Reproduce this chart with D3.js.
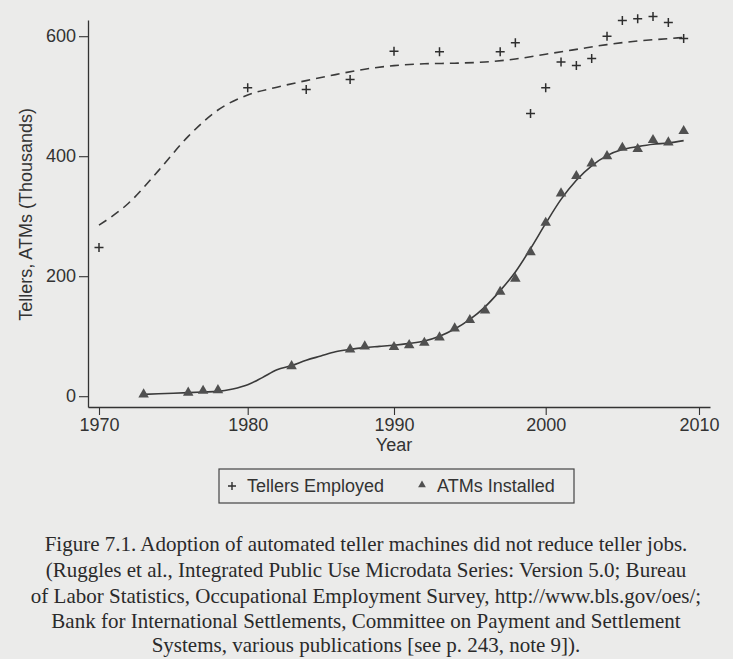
<!DOCTYPE html>
<html>
<head>
<meta charset="utf-8">
<script src="https://cdn.jsdelivr.net/npm/d3@7"></script>
<style>
  html, body { margin: 0; padding: 0; background: #ebebea; }
  svg { display: block; }
</style>
</head>
<body>
<svg id="chart" width="733" height="659"></svg>
<script>
// ---- data ----
const tellerYears  = [1970, 1980, 1984, 1987, 1990, 1993, 1997, 1998, 1999, 2000, 2001, 2002, 2003, 2004, 2005, 2006, 2007, 2008, 2009];
const tellerValues = [248, 514, 511, 528, 575, 574, 574, 589, 471, 514, 557, 551, 563, 600, 626, 629, 633, 623, 596];

const tellerFitYears  = [1970, 1972, 1974, 1976, 1978, 1980, 1982, 1984, 1986, 1988, 1990, 1992, 1994, 1996, 1998, 2000, 2002, 2004, 2006, 2008, 2009];
const tellerFitValues = [285, 322, 376, 433, 477, 502, 515, 526, 536, 545, 551, 554, 555, 557, 562, 570, 578, 586, 592, 596, 598];

const atmYears  = [1973, 1976, 1977, 1978, 1983, 1987, 1988, 1990, 1991, 1992, 1993, 1994, 1995, 1996, 1997, 1998, 1999, 2000, 2001, 2002, 2003, 2004, 2005, 2006, 2007, 2008, 2009];
const atmValues = [3, 6, 9, 10, 50, 78, 83, 82, 85, 89, 98, 113, 127, 143, 174, 196, 240, 289, 338, 367, 388, 400, 414, 412, 427, 423, 442];

const atmFitYears  = [1973, 1975, 1977, 1978, 1979, 1980, 1981, 1982, 1983, 1984, 1985, 1986, 1987, 1988, 1989, 1990, 1991, 1992, 1993, 1994, 1995, 1996, 1997, 1998, 1999, 2000, 2001, 2002, 2003, 2004, 2005, 2006, 2007, 2008, 2009];
const atmFitValues = [3, 5, 7, 8, 12, 19, 31, 44, 51, 60, 67, 74, 78, 81, 83, 85, 88, 92, 100, 112, 128, 149, 176, 207, 246, 288, 328, 360, 384, 401, 411, 416, 420, 422, 426];

const xTicks = [1970, 1980, 1990, 2000, 2010];
const yTicks = [0, 200, 400, 600];

const legendLabels = ["Tellers Employed", "ATMs Installed"];
const xTitle = "Year";
const yTitle = "Tellers, ATMs (Thousands)";
const captionLines = [
  "Figure 7.1. Adoption of automated teller machines did not reduce teller jobs.",
  "(Ruggles et al., Integrated Public Use Microdata Series: Version 5.0; Bureau",
  "of Labor Statistics, Occupational Employment Survey, http://www.bls.gov/oes/;",
  "Bank for International Settlements, Committee on Payment and Settlement",
  "Systems, various publications [see p. 243, note 9])."
];

// ---- layout ----
const svg = d3.select("#chart");
const ink = "#333";
const sans = "Liberation Sans, Arial, Helvetica, sans-serif";

// slight photographic unevenness in the tick spacing is reproduced with a piecewise scale
const x = d3.scaleLinear()
  .domain([1969.25, 1970, 1980, 1990, 2000, 2010, 2010.7])
  .range([88, 99, 247.7, 394, 545.7, 699, 710]);
const y = d3.scaleLinear().domain([-18, 627]).range([407, 20]);

// axes
const xAxis = d3.axisBottom(x).tickValues(xTicks).tickFormat(d3.format("d")).tickSize(8).tickPadding(3).tickSizeOuter(0);
const gx = svg.append("g").attr("transform", `translate(0,${y(-18)})`).call(xAxis);
gx.select(".domain").attr("stroke", ink).attr("stroke-width", 1.3);
gx.selectAll(".tick line").attr("stroke", ink).attr("stroke-width", 1.1);
gx.selectAll(".tick text").attr("fill", ink).style("font-family", sans).style("font-size", "18px");

const yAxis = d3.axisLeft(y).tickValues(yTicks).tickSize(9).tickPadding(3).tickSizeOuter(0);
const gy = svg.append("g").attr("transform", `translate(${x(1969.25)},0)`).call(yAxis);
gy.select(".domain").attr("stroke", ink).attr("stroke-width", 1.3);
gy.selectAll(".tick line").attr("stroke", ink).attr("stroke-width", 1.1);
gy.selectAll(".tick text").attr("fill", ink).style("font-family", sans).style("font-size", "18px");

// axis titles
svg.append("text").attr("x", x(1990)).attr("y", 451)
  .attr("text-anchor", "middle").attr("fill", ink)
  .style("font-family", sans).style("font-size", "18px").text(xTitle);
svg.append("text").attr("transform", `translate(32,${y(303)}) rotate(-90)`)
  .attr("text-anchor", "middle").attr("fill", ink)
  .style("font-family", sans).style("font-size", "18px").text(yTitle);

// fitted curves
const tellerFit = tellerFitYears.map((yr, i) => [yr, tellerFitValues[i]]);
const atmFit = atmFitYears.map((yr, i) => [yr, atmFitValues[i]]);
const line = d3.line().x(d => x(d[0])).y(d => y(d[1])).curve(d3.curveMonotoneX);

svg.append("path").datum(tellerFit).attr("d", line)
  .attr("fill", "none").attr("stroke", "#3a3a3a").attr("stroke-width", 1.6)
  .attr("stroke-dasharray", "9,6");
svg.append("path").datum(atmFit).attr("d", line)
  .attr("fill", "none").attr("stroke", "#3a3a3a").attr("stroke-width", 1.6);

// markers
const tellers = tellerYears.map((yr, i) => [yr, tellerValues[i]]);
const atms = atmYears.map((yr, i) => [yr, atmValues[i]]);

const plusPath = (cx, cy, r) => `M${cx - r},${cy}H${cx + r}M${cx},${cy - r}V${cy + r}`;
svg.append("g").selectAll("path").data(tellers).join("path")
  .attr("d", d => plusPath(x(d[0]), y(d[1]), 4.5))
  .attr("stroke", "#2e2e2e").attr("stroke-width", 1.5).attr("fill", "none");

const tri = d3.symbol().type(d3.symbolTriangle).size(48);
svg.append("g").selectAll("path").data(atms).join("path")
  .attr("d", tri)
  .attr("transform", d => `translate(${x(d[0])},${y(d[1])})`)
  .attr("fill", "#505050");

// legend
const lg = svg.append("g");
lg.append("rect").attr("x", 219).attr("y", 469).attr("width", 355).attr("height", 34)
  .attr("fill", "none").attr("stroke", "#444").attr("stroke-width", 1.2);
lg.append("path").attr("d", plusPath(232, 486, 4)).attr("stroke", "#2e2e2e").attr("stroke-width", 1.4);
lg.append("text").attr("x", 247).attr("y", 492).attr("fill", ink)
  .style("font-family", sans).style("font-size", "18px").text(legendLabels[0]);
lg.append("path").attr("d", d3.symbol().type(d3.symbolTriangle).size(26)())
  .attr("transform", "translate(422,485)").attr("fill", "#505050");
lg.append("text").attr("x", 437).attr("y", 492).attr("fill", ink)
  .style("font-family", sans).style("font-size", "18px").text(legendLabels[1]);

// caption
const capY = [551, 577, 603, 628, 652];
svg.append("g").selectAll("text").data(captionLines).join("text")
  .attr("x", 366).attr("y", (d, i) => capY[i])
  .attr("text-anchor", "middle").attr("fill", "#2a2a2a")
  .style("font-family", "Liberation Serif, Times New Roman, serif").style("font-size", "21px")
  .text(d => d);
</script>
</body>
</html>
